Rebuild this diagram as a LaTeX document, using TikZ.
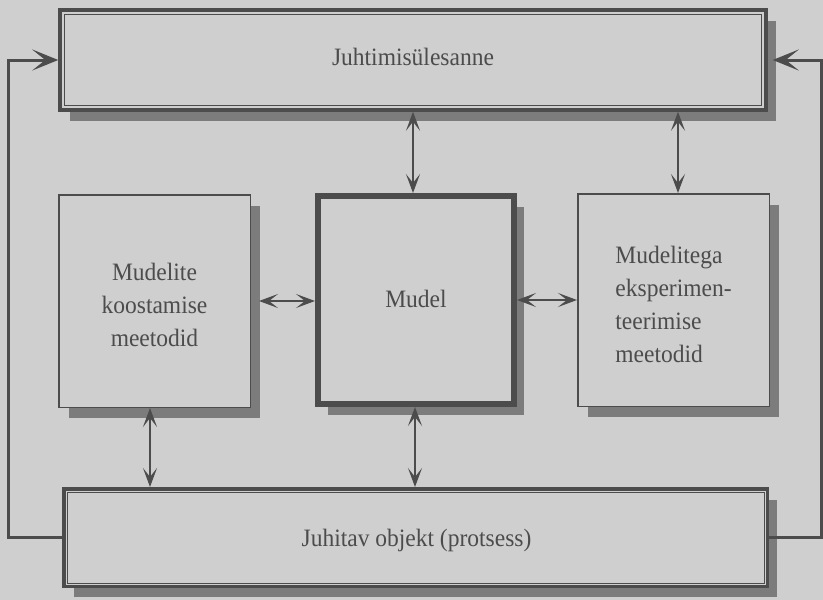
\documentclass[tikz,border=0pt]{standalone}
\usepackage{fontspec}
\setmainfont{Liberation Serif}[FakeStretch=0.94]
\usetikzlibrary{arrows.meta,shadows}
\definecolor{paper}{RGB}{207,207,207}
\definecolor{ink}{RGB}{76,76,76}
\definecolor{shade}{RGB}{124,124,124}

\begin{document}
\begin{tikzpicture}[x=1pt,y=-1pt,
  caption/.style={font=\fontsize{25}{33}\selectfont, text=ink, inner sep=0pt},
  boxshadow/.style={drop shadow={shadow xshift=10pt, shadow yshift=-11pt,
      fill=shade, opacity=1}},
  wide/.style={draw=ink, fill=paper, line width=3.5pt, boxshadow},
  plain/.style={draw=ink, fill=paper, line width=1.5pt, boxshadow,
      minimum width=191.5pt, minimum height=212.5pt},
  core/.style={draw=ink, fill=paper, line width=6pt, boxshadow,
      minimum width=196pt, minimum height=208pt},
  inner/.style={draw=ink, line width=1pt},
  conn/.style={draw=ink, line width=2pt,
      {Stealth[length=19pt,width=14pt,inset=9pt]}-{Stealth[length=19pt,width=14pt,inset=9pt]}},
  fb/.style={draw=ink, line width=3pt,
      -{Stealth[length=26pt,width=21pt,inset=13pt]}}]

% page
\fill[paper] (0,0) rectangle (823,600);
\useasboundingbox (0,0) rectangle (823,600);

% boxes
\node[wide, minimum width=706pt, minimum height=100pt] (top) at (413,60) {};
\draw[inner] ([shift={(6,6)}]top.north west) rectangle ([shift={(-6,-6)}]top.south east);

\node[plain] (left) at (154.5,301) {};
\node[core] (mid) at (416,300) {};
\node[plain] (right) at (673.5,300) {};

\node[wide, minimum width=703.5pt, minimum height=97.5pt] (bot) at (415.5,537.5) {};
\draw[inner] ([shift={(5,5)}]bot.north west) rectangle ([shift={(-5,-5)}]bot.south east);

% captions
\node[caption] (toptext) at ([shift={(0,-3)}]top.center) {Juhtimisülesanne};
\node[caption, align=center] (lefttext) at ([shift={(0,4)}]left.center) {Mudelite\\koostamise\\meetodid};
\node[caption] (midtext) at ([shift={(0,-1)}]mid.center) {Mudel};
\node[caption, align=left] (righttext) at ([shift={(0,4)}]right.center) {Mudelitega\\eksperimen-\\teerimise\\meetodid};
\node[caption] (bottext) at ([shift={(1,3)}]bot.center) {Juhitav objekt (protsess)};

% attachment points
\coordinate (ta) at ([xshift=-3pt]mid.north);
\coordinate (tb) at ([xshift=4.5pt]right.north);
\coordinate (ba) at ([xshift=-4.5pt]left.south);
\coordinate (bb) at ([xshift=-1pt]mid.south);

% two-way links
\draw[conn] (ta |- top.south) -- (ta);
\draw[conn] (tb |- top.south) -- (tb);
\draw[conn] ([xshift=8pt]left.east) -- (left.east -| mid.west);
\draw[conn] (mid.east) -- (mid.east -| right.west);
\draw[conn] (ba) -- (ba |- bot.north);
\draw[conn] (bb) -- (bb |- bot.north);

% feedback loops
\draw[fb] (bot.west) -- ++(-54,0) |- (top.west);
\draw[fb] (bot.east) -- ++(52,0) |- ([xshift=5pt]top.east);
\end{tikzpicture}
\end{document}
